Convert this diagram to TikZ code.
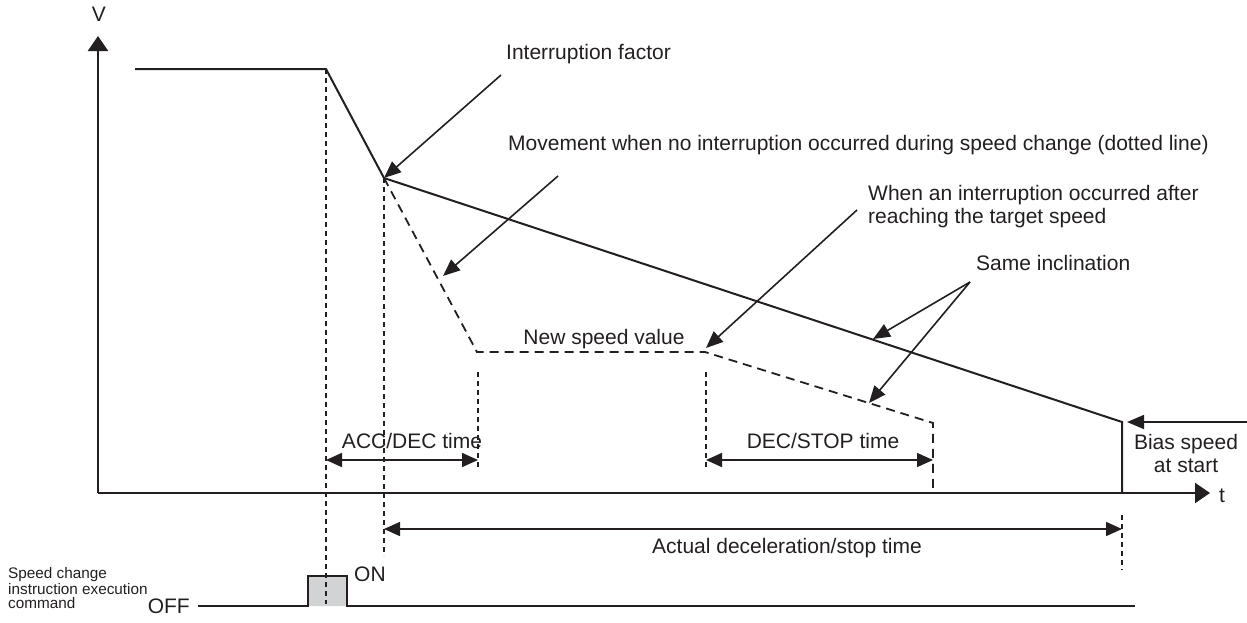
\documentclass[tikz,border=0pt]{standalone}
\usepackage{fontspec}
\setmainfont{Liberation Sans}
\usetikzlibrary{arrows.meta}
\definecolor{ink}{HTML}{231F20}
\definecolor{pulsegray}{HTML}{D1D3D4}
\begin{document}
\begin{tikzpicture}[x=1pt,y=-1pt,
  lbl/.style={font=\fontsize{21}{23}\selectfont, text=ink, inner sep=0pt},
  small/.style={font=\fontsize{15.3}{14}\selectfont, text=ink, inner sep=0pt, align=left},
  curve/.style={draw=ink, line width=2pt, line join=miter},
  dpath/.style={draw=ink, line width=1.8pt, dash pattern=on 9pt off 6pt},
  guide/.style={draw=ink, line width=1.2pt, dash pattern=on 5pt off 4pt},
  axisarrow/.style={draw=ink, line width=2.2pt, -{Triangle[length=15pt,width=20pt]}},
  ptr/.style={draw=ink, line width=1.6pt, -{Triangle[length=17pt,width=14pt]}},
  span/.style={draw=ink, line width=1.6pt, {Triangle[length=16pt,width=14pt]}-{Triangle[length=16pt,width=14pt]}},
]
\useasboundingbox (0,0) rectangle (1247,622);

% key points
\coordinate (O) at (98,493);
\coordinate (Ytop) at (98,36);
\coordinate (Xend) at (1210,493);
\coordinate (A) at (135,69);
\coordinate (B) at (326,69);
\coordinate (P) at (384,178);
\coordinate (E) at (1122,422);
\coordinate (Eb) at (1122,493);
\coordinate (C1) at (477,352);
\coordinate (C2) at (705,352);
\coordinate (C3) at (933,423);
\coordinate (C3b) at (933,490);

% pulse (drawn first so guides go over it)
\draw[draw=ink, fill=pulsegray, line width=1.6pt] (198,606) -- (308,606) -- (308,576) -- (347,576) -- (347,606) -- (1135,606);

% axes
\draw[axisarrow] (O) -- (Ytop);
\draw[axisarrow] (O) -- (Xend);
\node[lbl, anchor=base] (vlab) at (99,21) {V};
\node[lbl, anchor=base west] (tlab) at (1219,502) {t};

% speed profile
\draw[curve] (A) -- (B) -- (P) -- (E) -- (Eb);
\draw[dpath] (P) -- (C1) -- (C2) -- (C3) -- (C3b);

% guides
\coordinate (g1) at (326,604);
\coordinate (g2) at (384,556);
\coordinate (g3a) at (478,372); \coordinate (g3b) at (478,468);
\coordinate (g4a) at (706,372); \coordinate (g4b) at (706,468);
\coordinate (g5a) at (1122,515); \coordinate (g5b) at (1122,570);
\draw[guide] (B) -- (g1);
\draw[guide] (P) -- (g2);
\draw[guide] (g3a) -- (g3b);
\draw[guide] (g4a) -- (g4b);
\draw[guide] (g5a) -- (g5b);

% time spans
\coordinate (s1a) at (326,460); \coordinate (s1b) at (478,460);
\coordinate (s2a) at (706,460); \coordinate (s2b) at (933,460);
\coordinate (s3a) at (384,529); \coordinate (s3b) at (1122,529);
\draw[span] (s1a) -- (s1b);
\draw[span] (s2a) -- (s2b);
\draw[span] (s3a) -- (s3b);
\node[lbl, anchor=base] (accdec) at (412,448) {ACC/DEC time};
\node[lbl, anchor=base] (decstop) at (823,448) {DEC/STOP time};
\node[lbl, anchor=base] (actual) at (787,553) {Actual deceleration/stop time};
\node[lbl, anchor=base] (newspeed) at (604,344) {New speed value};

% callouts
\node[lbl, anchor=base west] (intf) at (506,59) {Interruption factor};
\node[lbl, anchor=base west] (move) at (508,150) {Movement when no interruption occurred during speed change (dotted line)};
\node[lbl, anchor=base west, align=left] (when) at (868,223) {When an interruption occurred after\\reaching the target speed};
\node[lbl, anchor=base west] (same) at (976,270) {Same inclination};
\node[lbl, anchor=base, align=center] (bias) at (1186,472) {Bias speed\\at start};

\coordinate (intfS) at (501,75);
\coordinate (moveS) at (558,176); \coordinate (moveT) at (443,276);
\coordinate (whenS) at (857,210); \coordinate (whenT) at (706,348);
\coordinate (sameS) at (970,282); \coordinate (sameT1) at (873,339); \coordinate (sameT2) at (869,403);
\coordinate (biasS) at (1247,422); \coordinate (biasT) at (1127,422);
\draw[ptr] (intfS) -- (P);
\draw[ptr] (moveS) -- (moveT);
\draw[ptr] (whenS) -- (whenT);
\draw[ptr] (sameS) -- (sameT1);
\draw[ptr] (sameS) -- (sameT2);
\draw[ptr] (biasS) -- (biasT);

% command signal labels
\node[lbl, anchor=base west] (on) at (354,581) {ON};
\node[lbl, anchor=base east] (off) at (190,613) {OFF};
\node[small, anchor=base west] (sc) at (8,608) {Speed change\\instruction execution\\command};
\end{tikzpicture}
\end{document}
